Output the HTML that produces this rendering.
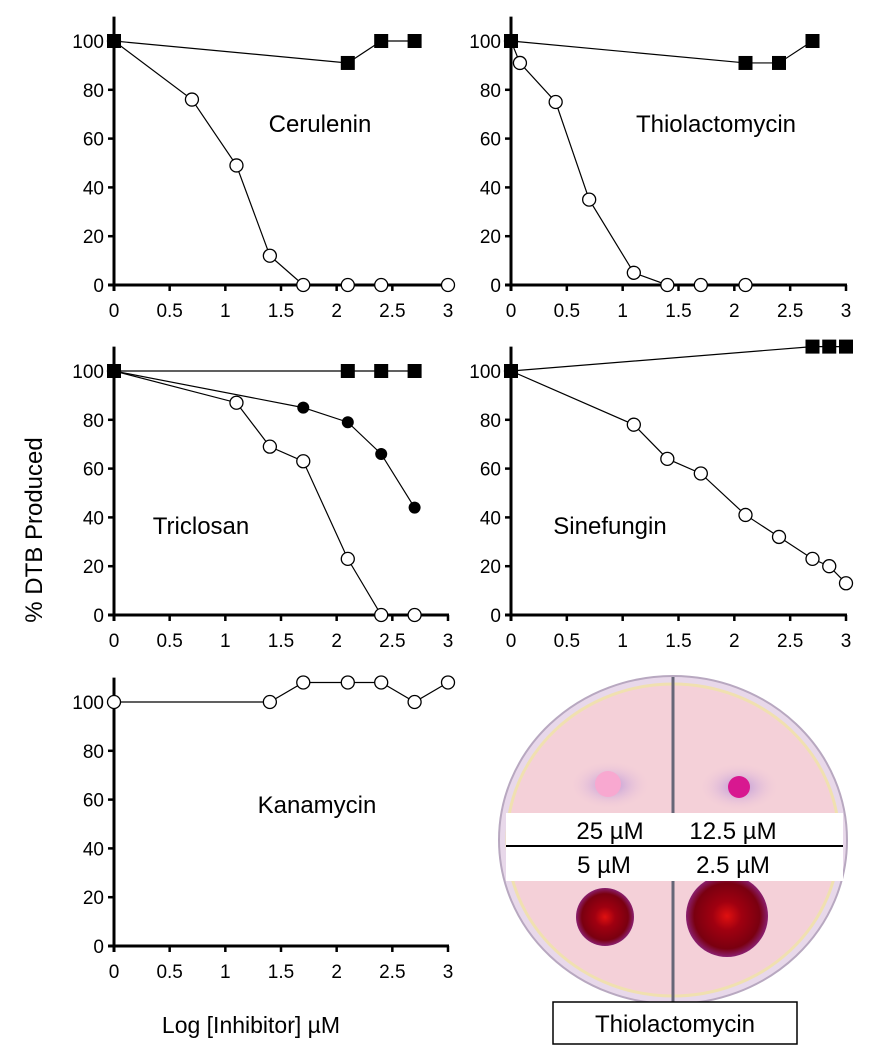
<!DOCTYPE html>
<html><head><meta charset="utf-8"><style>
body{margin:0;background:#fff;}
svg{display:block;font-family:"Liberation Sans",sans-serif;}
</style></head><body>
<svg id="fig" width="869" height="1050" viewBox="0 0 869 1050">
<defs>
<radialGradient id="dark" cx="50%" cy="50%" r="50%"><stop offset="0" stop-color="#e01010"/><stop offset="0.35" stop-color="#a00010"/><stop offset="0.8" stop-color="#7a0010"/><stop offset="1" stop-color="#8a2070"/></radialGradient>
<radialGradient id="halo" cx="50%" cy="50%" r="50%"><stop offset="0" stop-color="#9a78d8" stop-opacity="0.7"/><stop offset="1" stop-color="#f2c8dc" stop-opacity="0"/></radialGradient>
</defs>
<g id="charts"></g>
<g>
<ellipse cx="673" cy="840" rx="174" ry="164" fill="#e8d8ea" stroke="#b8a8c0" stroke-width="2"/>
<ellipse cx="673" cy="840" rx="166" ry="156" fill="#f4d0d8" stroke="#f0e0b0" stroke-width="3"/>
<ellipse cx="610" cy="785" rx="40" ry="24" fill="url(#halo)"/>
<ellipse cx="739" cy="787" rx="40" ry="24" fill="url(#halo)"/>
<circle cx="608" cy="784" r="13" fill="#f8a8d0"/>
<circle cx="739" cy="787" r="11" fill="#d81890"/>
<circle cx="605" cy="917" r="29" fill="url(#dark)"/>
<circle cx="727" cy="916" r="41" fill="url(#dark)"/>
<line x1="673" y1="677" x2="673" y2="1003" stroke="#667" stroke-width="3"/>
<rect x="506" y="813" width="337" height="68" fill="#fff"/>
<line x1="506" y1="846" x2="843" y2="846" stroke="#000" stroke-width="2"/>
<text x="610" y="839" font-size="24" text-anchor="middle">25 µM</text>
<text x="733" y="839" font-size="24" text-anchor="middle">12.5 µM</text>
<text x="604" y="873" font-size="24" text-anchor="middle">5 µM</text>
<text x="733" y="873" font-size="24" text-anchor="middle">2.5 µM</text>
</g>
<rect x="553" y="1002" width="244" height="42" fill="#fff" stroke="#000" stroke-width="1.5"/>
<text x="675" y="1032" font-size="24" text-anchor="middle">Thiolactomycin</text>
<text transform="translate(42,530) rotate(-90)" font-size="24" text-anchor="middle">% DTB Produced</text>
<text x="251" y="1033" font-size="23" text-anchor="middle">Log [Inhibitor] µM</text>
</svg>
<script>
const xTicks=[0,0.5,1,1.5,2,2.5,3];
const yTicks=[0,20,40,60,80,100];
const ceruleninSqX=[0,2.1,2.4,2.7];
const ceruleninSqY=[100,91,100,100];
const ceruleninOpX=[0,0.7,1.1,1.4,1.7,2.1,2.4,3];
const ceruleninOpY=[100,76,49,12,0,0,0,0];
const thioSqX=[0,2.1,2.4,2.7];
const thioSqY=[100,91,91,100];
const thioOpX=[0,0.08,0.4,0.7,1.1,1.4,1.7,2.1];
const thioOpY=[100,91,75,35,5,0,0,0];
const tricSqX=[0,2.1,2.4,2.7];
const tricSqY=[100,100,100,100];
const tricFiX=[0,1.7,2.1,2.4,2.7];
const tricFiY=[100,85,79,66,44];
const tricOpX=[0,1.1,1.4,1.7,2.1,2.4,2.7];
const tricOpY=[100,87,69,63,23,0,0];
const sineSqX=[0,2.7,2.85,3];
const sineSqY=[100,110,110,110];
const sineOpX=[0,1.1,1.4,1.7,2.1,2.4,2.7,2.85,3];
const sineOpY=[100,78,64,58,41,32,23,20,13];
const kanaOpX=[0,1.4,1.7,2.1,2.4,2.7,3];
const kanaOpY=[100,100,108,108,108,100,108];

const NS='http://www.w3.org/2000/svg';
const root=document.getElementById('charts');
function mk(tag,attrs,parent){const e=document.createElementNS(NS,tag);for(const k in attrs)e.setAttribute(k,attrs[k]);parent.appendChild(e);return e;}

function panel(name,x0,x3,y0,title,tx,ty,series){
  const g=mk('g',{},root);
  
  
  const sx=v=>x0+v*(x3-x0)/3;
  const sy=v=>y0-v*2.44;
  const ya=mk('line',{x1:x0,y1:sy(110),x2:x0,y2:y0+6,stroke:'#000','stroke-width':3},g);
  
  
  const xa=mk('line',{x1:x0-6,y1:y0,x2:x3+1,y2:y0,stroke:'#000','stroke-width':3},g);
  
  
  yTicks.forEach(t=>{
    mk('line',{x1:x0-6,y1:sy(t),x2:x0,y2:sy(t),stroke:'#000','stroke-width':2.5},g);
    const l=mk('text',{x:x0-10,y:sy(t)+7,'font-size':19,'text-anchor':'end'},g);
    l.textContent=t;
    
    
  });
  xTicks.forEach(t=>{
    mk('line',{x1:sx(t),y1:y0,x2:sx(t),y2:y0+6,stroke:'#000','stroke-width':2.5},g);
    const l=mk('text',{x:sx(t),y:y0+32,'font-size':19,'text-anchor':'middle'},g);
    l.textContent=t;
    
    
  });
  const tt=mk('text',{x:tx,y:ty,'font-size':24,'text-anchor':'middle'},g);
  tt.textContent=title;
  
  
  series.forEach(s=>{
    const pts=s.x.map((v,i)=>sx(v)+','+sy(s.y[i])).join(' ');
    const pl=mk('polyline',{points:pts,fill:'none',stroke:'#000','stroke-width':1.2},g);
    
    
    s.x.forEach((v,i)=>{
      let m;
      if(s.kind==='square'){m=mk('rect',{x:sx(v)-7,y:sy(s.y[i])-7,width:14,height:14,fill:'#000'},g);}
      else if(s.kind==='filled'){m=mk('circle',{cx:sx(v),cy:sy(s.y[i]),r:6,fill:'#000'},g);}
      else{m=mk('circle',{cx:sx(v),cy:sy(s.y[i]),r:6.5,fill:'#fff',stroke:'#000','stroke-width':1.3},g);}
      
      
    });
  });
}
panel('cerulenin-panel',114,448,285,'Cerulenin',320,132,[{kind:'open',x:ceruleninOpX,y:ceruleninOpY},{kind:'square',x:ceruleninSqX,y:ceruleninSqY}]);
panel('thiolactomycin-panel',511,846,285,'Thiolactomycin',716,132,[{kind:'open',x:thioOpX,y:thioOpY},{kind:'square',x:thioSqX,y:thioSqY}]);
panel('triclosan-panel',114,448,615,'Triclosan',201,534,[{kind:'open',x:tricOpX,y:tricOpY},{kind:'filled',x:tricFiX,y:tricFiY},{kind:'square',x:tricSqX,y:tricSqY}]);
panel('sinefungin-panel',511,846,615,'Sinefungin',610,534,[{kind:'open',x:sineOpX,y:sineOpY},{kind:'square',x:sineSqX,y:sineSqY}]);
panel('kanamycin-panel',114,448,946,'Kanamycin',317,813,[{kind:'open',x:kanaOpX,y:kanaOpY}]);
</script>
</body></html>
